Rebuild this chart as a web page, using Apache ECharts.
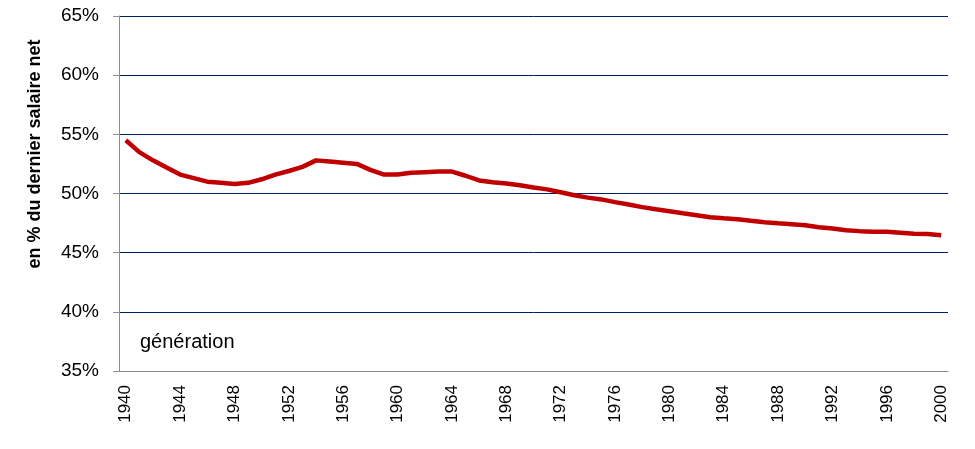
<!DOCTYPE html>
<html>
<head>
<meta charset="utf-8">
<script src="https://cdn.jsdelivr.net/npm/echarts@6/dist/echarts.min.js"></script>
<style>
  html, body { margin: 0; padding: 0; background: #fff; }
  #chart { width: 975px; height: 449px; }
</style>
</head>
<body>
<div id="chart"></div>
<script>
// generations 1940..2000
var years = [];
for (var y = 1940; y <= 2000; y++) years.push(String(y));

// taux de remplacement, en % du dernier salaire net
var taux = [
  54.5, 53.5, 52.8, 52.2, 51.6, 51.3, 51.0, 50.9, 50.8, 50.9,
  51.2, 51.6, 51.9, 52.25, 52.8, 52.7, 52.6, 52.5, 52.0, 51.6,
  51.6, 51.75, 51.8, 51.85, 51.85, 51.5, 51.1, 50.95, 50.85, 50.7,
  50.5, 50.35, 50.1, 49.85, 49.65, 49.5, 49.27, 49.07, 48.85, 48.67,
  48.5, 48.33, 48.17, 48.0, 47.9, 47.83, 47.69, 47.58, 47.49, 47.41,
  47.32, 47.15, 47.04, 46.9, 46.82, 46.76, 46.76, 46.68, 46.6, 46.58,
  46.48
];

var yTicks = [35, 40, 45, 50, 55, 60, 65];

var chart = echarts.init(document.getElementById('chart'));

var option = {
  animation: false,
  grid: {
    left: 119,
    right: 27,
    top: 16,
    bottom: 78,
    containLabel: false
  },
  xAxis: {
    type: 'category',
    data: years,
    boundaryGap: true,
    axisLine: { lineStyle: { color: '#8c8c8c', width: 1 } },
    axisTick: { interval: 0, length: 6, lineStyle: { color: '#8c8c8c' } },
    axisLabel: {
      interval: 3,
      rotate: 90,
      margin: 14,
      color: '#000',
      fontSize: 17,
      fontFamily: 'Liberation Sans'
    },
    splitLine: { show: false }
  },
  yAxis: {
    type: 'value',
    min: yTicks[0],
    max: yTicks[yTicks.length - 1],
    interval: 5,
    axisLine: { show: true, lineStyle: { color: '#8c8c8c', width: 1 } },
    axisTick: { show: true, length: 6, lineStyle: { color: '#8c8c8c' } },
    axisLabel: {
      formatter: '{value}%',
      margin: 20,
      color: '#000',
      fontSize: 19,
      fontFamily: 'Liberation Sans'
    },
    splitLine: { lineStyle: { color: '#002060', width: 1 } }
  },
  graphic: [
    {
      type: 'text',
      left: 140,
      top: 332,
      style: {
        text: 'génération',
        fill: '#000',
        font: '20px "Liberation Sans"'
      }
    },
    {
      type: 'text',
      x: 35,
      y: 154,
      rotation: Math.PI / 2,
      style: {
        text: 'en % du dernier salaire net',
        fill: '#000',
        font: 'bold 18px "Liberation Sans"',
        align: 'center',
        verticalAlign: 'middle'
      }
    }
  ],
  series: [
    {
      type: 'line',
      data: taux,
      symbol: 'none',
      smooth: false,
      lineStyle: { color: '#c00000', width: 4.5 }
    }
  ]
};

chart.setOption(option);
</script>
</body>
</html>
